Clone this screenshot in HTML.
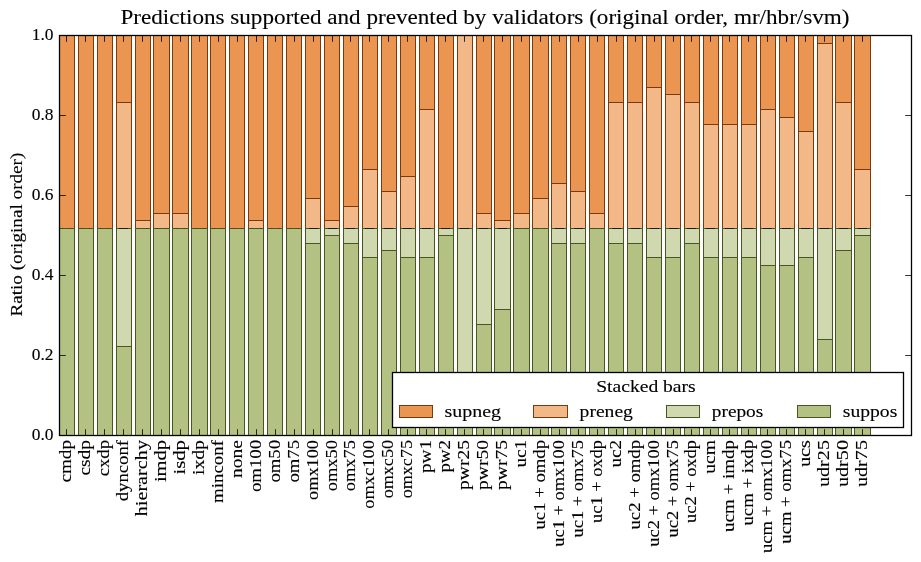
<!DOCTYPE html>
<html><head><meta charset="utf-8"><style>
html,body{margin:0;padding:0;background:#fff;width:921px;height:562px;overflow:hidden}
svg{display:block;will-change:transform}
text{font-family:"Liberation Serif",serif;font-size:16.67px;fill:#000;stroke:#000;stroke-width:0.12px}
</style></head><body>
<svg width="921" height="562" viewBox="0 0 921 562">
<rect width="921" height="562" fill="#fff"/>
<g shape-rendering="crispEdges">
<rect x="59" y="228" width="16" height="208" fill="#b3c283"/>
<rect x="59" y="35" width="16" height="193" fill="#ea9652"/>
<rect x="78" y="228" width="16" height="208" fill="#b3c283"/>
<rect x="78" y="35" width="16" height="193" fill="#ea9652"/>
<rect x="97" y="228" width="16" height="208" fill="#b3c283"/>
<rect x="97" y="35" width="16" height="193" fill="#ea9652"/>
<rect x="116" y="346" width="16" height="90" fill="#b3c283"/>
<rect x="116" y="228" width="16" height="118" fill="#cfd8ae"/>
<rect x="116" y="102" width="16" height="126" fill="#f2b888"/>
<rect x="116" y="35" width="16" height="67" fill="#ea9652"/>
<rect x="135" y="228" width="16" height="208" fill="#b3c283"/>
<rect x="135" y="220" width="16" height="8" fill="#f2b888"/>
<rect x="135" y="35" width="16" height="185" fill="#ea9652"/>
<rect x="153" y="228" width="17" height="208" fill="#b3c283"/>
<rect x="153" y="213" width="17" height="15" fill="#f2b888"/>
<rect x="153" y="35" width="17" height="178" fill="#ea9652"/>
<rect x="172" y="228" width="17" height="208" fill="#b3c283"/>
<rect x="172" y="213" width="17" height="15" fill="#f2b888"/>
<rect x="172" y="35" width="17" height="178" fill="#ea9652"/>
<rect x="191" y="228" width="17" height="208" fill="#b3c283"/>
<rect x="191" y="35" width="17" height="193" fill="#ea9652"/>
<rect x="210" y="228" width="16" height="208" fill="#b3c283"/>
<rect x="210" y="35" width="16" height="193" fill="#ea9652"/>
<rect x="229" y="228" width="16" height="208" fill="#b3c283"/>
<rect x="229" y="35" width="16" height="193" fill="#ea9652"/>
<rect x="248" y="228" width="16" height="208" fill="#b3c283"/>
<rect x="248" y="220" width="16" height="8" fill="#f2b888"/>
<rect x="248" y="35" width="16" height="185" fill="#ea9652"/>
<rect x="267" y="228" width="16" height="208" fill="#b3c283"/>
<rect x="267" y="35" width="16" height="193" fill="#ea9652"/>
<rect x="286" y="228" width="16" height="208" fill="#b3c283"/>
<rect x="286" y="35" width="16" height="193" fill="#ea9652"/>
<rect x="305" y="243" width="16" height="193" fill="#b3c283"/>
<rect x="305" y="228" width="16" height="15" fill="#cfd8ae"/>
<rect x="305" y="198" width="16" height="30" fill="#f2b888"/>
<rect x="305" y="35" width="16" height="163" fill="#ea9652"/>
<rect x="324" y="235" width="16" height="201" fill="#b3c283"/>
<rect x="324" y="228" width="16" height="7" fill="#cfd8ae"/>
<rect x="324" y="220" width="16" height="8" fill="#f2b888"/>
<rect x="324" y="35" width="16" height="185" fill="#ea9652"/>
<rect x="343" y="243" width="16" height="193" fill="#b3c283"/>
<rect x="343" y="228" width="16" height="15" fill="#cfd8ae"/>
<rect x="343" y="206" width="16" height="22" fill="#f2b888"/>
<rect x="343" y="35" width="16" height="171" fill="#ea9652"/>
<rect x="362" y="257" width="16" height="179" fill="#b3c283"/>
<rect x="362" y="228" width="16" height="29" fill="#cfd8ae"/>
<rect x="362" y="169" width="16" height="59" fill="#f2b888"/>
<rect x="362" y="35" width="16" height="134" fill="#ea9652"/>
<rect x="381" y="250" width="16" height="186" fill="#b3c283"/>
<rect x="381" y="228" width="16" height="22" fill="#cfd8ae"/>
<rect x="381" y="191" width="16" height="37" fill="#f2b888"/>
<rect x="381" y="35" width="16" height="156" fill="#ea9652"/>
<rect x="400" y="257" width="16" height="179" fill="#b3c283"/>
<rect x="400" y="228" width="16" height="29" fill="#cfd8ae"/>
<rect x="400" y="176" width="16" height="52" fill="#f2b888"/>
<rect x="400" y="35" width="16" height="141" fill="#ea9652"/>
<rect x="419" y="257" width="16" height="179" fill="#b3c283"/>
<rect x="419" y="228" width="16" height="29" fill="#cfd8ae"/>
<rect x="419" y="109" width="16" height="119" fill="#f2b888"/>
<rect x="419" y="35" width="16" height="74" fill="#ea9652"/>
<rect x="438" y="235" width="16" height="201" fill="#b3c283"/>
<rect x="438" y="228" width="16" height="7" fill="#cfd8ae"/>
<rect x="438" y="35" width="16" height="193" fill="#ea9652"/>
<rect x="457" y="420" width="16" height="16" fill="#b3c283"/>
<rect x="457" y="228" width="16" height="192" fill="#cfd8ae"/>
<rect x="457" y="35" width="16" height="193" fill="#f2b888"/>
<rect x="476" y="324" width="16" height="112" fill="#b3c283"/>
<rect x="476" y="228" width="16" height="96" fill="#cfd8ae"/>
<rect x="476" y="213" width="16" height="15" fill="#f2b888"/>
<rect x="476" y="35" width="16" height="178" fill="#ea9652"/>
<rect x="494" y="309" width="17" height="127" fill="#b3c283"/>
<rect x="494" y="228" width="17" height="81" fill="#cfd8ae"/>
<rect x="494" y="220" width="17" height="8" fill="#f2b888"/>
<rect x="494" y="35" width="17" height="185" fill="#ea9652"/>
<rect x="513" y="228" width="17" height="208" fill="#b3c283"/>
<rect x="513" y="213" width="17" height="15" fill="#f2b888"/>
<rect x="513" y="35" width="17" height="178" fill="#ea9652"/>
<rect x="532" y="228" width="17" height="208" fill="#b3c283"/>
<rect x="532" y="198" width="17" height="30" fill="#f2b888"/>
<rect x="532" y="35" width="17" height="163" fill="#ea9652"/>
<rect x="551" y="243" width="16" height="193" fill="#b3c283"/>
<rect x="551" y="228" width="16" height="15" fill="#cfd8ae"/>
<rect x="551" y="183" width="16" height="45" fill="#f2b888"/>
<rect x="551" y="35" width="16" height="148" fill="#ea9652"/>
<rect x="570" y="243" width="16" height="193" fill="#b3c283"/>
<rect x="570" y="228" width="16" height="15" fill="#cfd8ae"/>
<rect x="570" y="191" width="16" height="37" fill="#f2b888"/>
<rect x="570" y="35" width="16" height="156" fill="#ea9652"/>
<rect x="589" y="228" width="16" height="208" fill="#b3c283"/>
<rect x="589" y="213" width="16" height="15" fill="#f2b888"/>
<rect x="589" y="35" width="16" height="178" fill="#ea9652"/>
<rect x="608" y="243" width="16" height="193" fill="#b3c283"/>
<rect x="608" y="228" width="16" height="15" fill="#cfd8ae"/>
<rect x="608" y="102" width="16" height="126" fill="#f2b888"/>
<rect x="608" y="35" width="16" height="67" fill="#ea9652"/>
<rect x="627" y="243" width="16" height="193" fill="#b3c283"/>
<rect x="627" y="228" width="16" height="15" fill="#cfd8ae"/>
<rect x="627" y="102" width="16" height="126" fill="#f2b888"/>
<rect x="627" y="35" width="16" height="67" fill="#ea9652"/>
<rect x="646" y="257" width="16" height="179" fill="#b3c283"/>
<rect x="646" y="228" width="16" height="29" fill="#cfd8ae"/>
<rect x="646" y="87" width="16" height="141" fill="#f2b888"/>
<rect x="646" y="35" width="16" height="52" fill="#ea9652"/>
<rect x="665" y="257" width="16" height="179" fill="#b3c283"/>
<rect x="665" y="228" width="16" height="29" fill="#cfd8ae"/>
<rect x="665" y="94" width="16" height="134" fill="#f2b888"/>
<rect x="665" y="35" width="16" height="59" fill="#ea9652"/>
<rect x="684" y="243" width="16" height="193" fill="#b3c283"/>
<rect x="684" y="228" width="16" height="15" fill="#cfd8ae"/>
<rect x="684" y="102" width="16" height="126" fill="#f2b888"/>
<rect x="684" y="35" width="16" height="67" fill="#ea9652"/>
<rect x="703" y="257" width="16" height="179" fill="#b3c283"/>
<rect x="703" y="228" width="16" height="29" fill="#cfd8ae"/>
<rect x="703" y="124" width="16" height="104" fill="#f2b888"/>
<rect x="703" y="35" width="16" height="89" fill="#ea9652"/>
<rect x="722" y="257" width="16" height="179" fill="#b3c283"/>
<rect x="722" y="228" width="16" height="29" fill="#cfd8ae"/>
<rect x="722" y="124" width="16" height="104" fill="#f2b888"/>
<rect x="722" y="35" width="16" height="89" fill="#ea9652"/>
<rect x="741" y="257" width="16" height="179" fill="#b3c283"/>
<rect x="741" y="228" width="16" height="29" fill="#cfd8ae"/>
<rect x="741" y="124" width="16" height="104" fill="#f2b888"/>
<rect x="741" y="35" width="16" height="89" fill="#ea9652"/>
<rect x="760" y="265" width="16" height="171" fill="#b3c283"/>
<rect x="760" y="228" width="16" height="37" fill="#cfd8ae"/>
<rect x="760" y="109" width="16" height="119" fill="#f2b888"/>
<rect x="760" y="35" width="16" height="74" fill="#ea9652"/>
<rect x="779" y="265" width="16" height="171" fill="#b3c283"/>
<rect x="779" y="228" width="16" height="37" fill="#cfd8ae"/>
<rect x="779" y="117" width="16" height="111" fill="#f2b888"/>
<rect x="779" y="35" width="16" height="82" fill="#ea9652"/>
<rect x="798" y="257" width="16" height="179" fill="#b3c283"/>
<rect x="798" y="228" width="16" height="29" fill="#cfd8ae"/>
<rect x="798" y="131" width="16" height="97" fill="#f2b888"/>
<rect x="798" y="35" width="16" height="96" fill="#ea9652"/>
<rect x="817" y="339" width="16" height="97" fill="#b3c283"/>
<rect x="817" y="228" width="16" height="111" fill="#cfd8ae"/>
<rect x="817" y="43" width="16" height="185" fill="#f2b888"/>
<rect x="817" y="35" width="16" height="8" fill="#ea9652"/>
<rect x="835" y="250" width="17" height="186" fill="#b3c283"/>
<rect x="835" y="228" width="17" height="22" fill="#cfd8ae"/>
<rect x="835" y="102" width="17" height="126" fill="#f2b888"/>
<rect x="835" y="35" width="17" height="67" fill="#ea9652"/>
<rect x="854" y="235" width="17" height="201" fill="#b3c283"/>
<rect x="854" y="228" width="17" height="7" fill="#cfd8ae"/>
<rect x="854" y="169" width="17" height="59" fill="#f2b888"/>
<rect x="854" y="35" width="17" height="134" fill="#ea9652"/>
</g>
<g shape-rendering="crispEdges">
<path d="M59,228h16v1h-16zM59,229h1v207h-1zM74,229h1v207h-1z" fill="#485624"/>
<path d="M59,35h16v1h-16zM59,36h1v192h-1zM74,36h1v192h-1z" fill="#7a3a0c"/>
<path d="M62,228h1v1h-1zM70,228h1v1h-1z" fill="#000" fill-opacity="0.25"/>
<path d="M78,228h16v1h-16zM78,229h1v207h-1zM93,229h1v207h-1z" fill="#485624"/>
<path d="M78,35h16v1h-16zM78,36h1v192h-1zM93,36h1v192h-1z" fill="#7a3a0c"/>
<path d="M81,228h1v1h-1zM89,228h1v1h-1z" fill="#000" fill-opacity="0.25"/>
<path d="M97,228h16v1h-16zM97,229h1v207h-1zM112,229h1v207h-1z" fill="#485624"/>
<path d="M97,35h16v1h-16zM97,36h1v192h-1zM112,36h1v192h-1z" fill="#7a3a0c"/>
<path d="M100,228h1v1h-1zM108,228h1v1h-1z" fill="#000" fill-opacity="0.25"/>
<path d="M116,346h16v1h-16zM116,347h1v89h-1zM131,347h1v89h-1z" fill="#485624"/>
<path d="M116,228h16v1h-16zM116,229h1v117h-1zM131,229h1v117h-1z" fill="#485624"/>
<path d="M116,102h16v1h-16zM116,103h1v125h-1zM131,103h1v125h-1z" fill="#7a3a0c"/>
<path d="M116,35h16v1h-16zM116,36h1v66h-1zM131,36h1v66h-1z" fill="#7a3a0c"/>
<rect x="119" y="228" width="9" height="1" fill="#141a0c" fill-opacity="0.9"/>
<path d="M135,228h16v1h-16zM135,229h1v207h-1zM150,229h1v207h-1z" fill="#485624"/>
<path d="M135,220h16v1h-16zM135,221h1v7h-1zM150,221h1v7h-1z" fill="#7a3a0c"/>
<path d="M135,35h16v1h-16zM135,36h1v184h-1zM150,36h1v184h-1z" fill="#7a3a0c"/>
<path d="M138,228h1v1h-1zM146,228h1v1h-1z" fill="#000" fill-opacity="0.25"/>
<path d="M153,228h17v1h-17zM153,229h1v207h-1zM169,229h1v207h-1z" fill="#485624"/>
<path d="M153,213h17v1h-17zM153,214h1v14h-1zM169,214h1v14h-1z" fill="#7a3a0c"/>
<path d="M153,35h17v1h-17zM153,36h1v177h-1zM169,36h1v177h-1z" fill="#7a3a0c"/>
<path d="M157,228h1v1h-1zM165,228h1v1h-1z" fill="#000" fill-opacity="0.25"/>
<path d="M172,228h17v1h-17zM172,229h1v207h-1zM188,229h1v207h-1z" fill="#485624"/>
<path d="M172,213h17v1h-17zM172,214h1v14h-1zM188,214h1v14h-1z" fill="#7a3a0c"/>
<path d="M172,35h17v1h-17zM172,36h1v177h-1zM188,36h1v177h-1z" fill="#7a3a0c"/>
<path d="M176,228h1v1h-1zM184,228h1v1h-1z" fill="#000" fill-opacity="0.25"/>
<path d="M191,228h17v1h-17zM191,229h1v207h-1zM207,229h1v207h-1z" fill="#485624"/>
<path d="M191,35h17v1h-17zM191,36h1v192h-1zM207,36h1v192h-1z" fill="#7a3a0c"/>
<path d="M195,228h1v1h-1zM203,228h1v1h-1z" fill="#000" fill-opacity="0.25"/>
<path d="M210,228h16v1h-16zM210,229h1v207h-1zM225,229h1v207h-1z" fill="#485624"/>
<path d="M210,35h16v1h-16zM210,36h1v192h-1zM225,36h1v192h-1z" fill="#7a3a0c"/>
<path d="M214,228h1v1h-1zM222,228h1v1h-1z" fill="#000" fill-opacity="0.25"/>
<path d="M229,228h16v1h-16zM229,229h1v207h-1zM244,229h1v207h-1z" fill="#485624"/>
<path d="M229,35h16v1h-16zM229,36h1v192h-1zM244,36h1v192h-1z" fill="#7a3a0c"/>
<path d="M233,228h1v1h-1zM241,228h1v1h-1z" fill="#000" fill-opacity="0.25"/>
<path d="M248,228h16v1h-16zM248,229h1v207h-1zM263,229h1v207h-1z" fill="#485624"/>
<path d="M248,220h16v1h-16zM248,221h1v7h-1zM263,221h1v7h-1z" fill="#7a3a0c"/>
<path d="M248,35h16v1h-16zM248,36h1v184h-1zM263,36h1v184h-1z" fill="#7a3a0c"/>
<path d="M252,228h1v1h-1zM260,228h1v1h-1z" fill="#000" fill-opacity="0.25"/>
<path d="M267,228h16v1h-16zM267,229h1v207h-1zM282,229h1v207h-1z" fill="#485624"/>
<path d="M267,35h16v1h-16zM267,36h1v192h-1zM282,36h1v192h-1z" fill="#7a3a0c"/>
<path d="M271,228h1v1h-1zM279,228h1v1h-1z" fill="#000" fill-opacity="0.25"/>
<path d="M286,228h16v1h-16zM286,229h1v207h-1zM301,229h1v207h-1z" fill="#485624"/>
<path d="M286,35h16v1h-16zM286,36h1v192h-1zM301,36h1v192h-1z" fill="#7a3a0c"/>
<path d="M290,228h1v1h-1zM298,228h1v1h-1z" fill="#000" fill-opacity="0.25"/>
<path d="M305,243h16v1h-16zM305,244h1v192h-1zM320,244h1v192h-1z" fill="#485624"/>
<path d="M305,228h16v1h-16zM305,229h1v14h-1zM320,229h1v14h-1z" fill="#485624"/>
<path d="M305,198h16v1h-16zM305,199h1v29h-1zM320,199h1v29h-1z" fill="#7a3a0c"/>
<path d="M305,35h16v1h-16zM305,36h1v162h-1zM320,36h1v162h-1z" fill="#7a3a0c"/>
<rect x="309" y="228" width="9" height="1" fill="#141a0c" fill-opacity="0.9"/>
<path d="M324,235h16v1h-16zM324,236h1v200h-1zM339,236h1v200h-1z" fill="#485624"/>
<path d="M324,228h16v1h-16zM324,229h1v6h-1zM339,229h1v6h-1z" fill="#485624"/>
<path d="M324,220h16v1h-16zM324,221h1v7h-1zM339,221h1v7h-1z" fill="#7a3a0c"/>
<path d="M324,35h16v1h-16zM324,36h1v184h-1zM339,36h1v184h-1z" fill="#7a3a0c"/>
<rect x="328" y="228" width="9" height="1" fill="#141a0c" fill-opacity="0.9"/>
<path d="M343,243h16v1h-16zM343,244h1v192h-1zM358,244h1v192h-1z" fill="#485624"/>
<path d="M343,228h16v1h-16zM343,229h1v14h-1zM358,229h1v14h-1z" fill="#485624"/>
<path d="M343,206h16v1h-16zM343,207h1v21h-1zM358,207h1v21h-1z" fill="#7a3a0c"/>
<path d="M343,35h16v1h-16zM343,36h1v170h-1zM358,36h1v170h-1z" fill="#7a3a0c"/>
<rect x="346" y="228" width="9" height="1" fill="#141a0c" fill-opacity="0.9"/>
<path d="M362,257h16v1h-16zM362,258h1v178h-1zM377,258h1v178h-1z" fill="#485624"/>
<path d="M362,228h16v1h-16zM362,229h1v28h-1zM377,229h1v28h-1z" fill="#485624"/>
<path d="M362,169h16v1h-16zM362,170h1v58h-1zM377,170h1v58h-1z" fill="#7a3a0c"/>
<path d="M362,35h16v1h-16zM362,36h1v133h-1zM377,36h1v133h-1z" fill="#7a3a0c"/>
<rect x="365" y="228" width="9" height="1" fill="#141a0c" fill-opacity="0.9"/>
<path d="M381,250h16v1h-16zM381,251h1v185h-1zM396,251h1v185h-1z" fill="#485624"/>
<path d="M381,228h16v1h-16zM381,229h1v21h-1zM396,229h1v21h-1z" fill="#485624"/>
<path d="M381,191h16v1h-16zM381,192h1v36h-1zM396,192h1v36h-1z" fill="#7a3a0c"/>
<path d="M381,35h16v1h-16zM381,36h1v155h-1zM396,36h1v155h-1z" fill="#7a3a0c"/>
<rect x="384" y="228" width="9" height="1" fill="#141a0c" fill-opacity="0.9"/>
<path d="M400,257h16v1h-16zM400,258h1v178h-1zM415,258h1v178h-1z" fill="#485624"/>
<path d="M400,228h16v1h-16zM400,229h1v28h-1zM415,229h1v28h-1z" fill="#485624"/>
<path d="M400,176h16v1h-16zM400,177h1v51h-1zM415,177h1v51h-1z" fill="#7a3a0c"/>
<path d="M400,35h16v1h-16zM400,36h1v140h-1zM415,36h1v140h-1z" fill="#7a3a0c"/>
<rect x="403" y="228" width="9" height="1" fill="#141a0c" fill-opacity="0.9"/>
<path d="M419,257h16v1h-16zM419,258h1v178h-1zM434,258h1v178h-1z" fill="#485624"/>
<path d="M419,228h16v1h-16zM419,229h1v28h-1zM434,229h1v28h-1z" fill="#485624"/>
<path d="M419,109h16v1h-16zM419,110h1v118h-1zM434,110h1v118h-1z" fill="#7a3a0c"/>
<path d="M419,35h16v1h-16zM419,36h1v73h-1zM434,36h1v73h-1z" fill="#7a3a0c"/>
<rect x="422" y="228" width="9" height="1" fill="#141a0c" fill-opacity="0.9"/>
<path d="M438,235h16v1h-16zM438,236h1v200h-1zM453,236h1v200h-1z" fill="#485624"/>
<path d="M438,228h16v1h-16zM438,229h1v6h-1zM453,229h1v6h-1z" fill="#485624"/>
<path d="M438,35h16v1h-16zM438,36h1v192h-1zM453,36h1v192h-1z" fill="#7a3a0c"/>
<rect x="441" y="228" width="9" height="1" fill="#141a0c" fill-opacity="0.9"/>
<path d="M457,420h16v1h-16zM457,421h1v15h-1zM472,421h1v15h-1z" fill="#485624"/>
<path d="M457,228h16v1h-16zM457,229h1v191h-1zM472,229h1v191h-1z" fill="#485624"/>
<path d="M457,35h16v1h-16zM457,36h1v192h-1zM472,36h1v192h-1z" fill="#7a3a0c"/>
<rect x="460" y="228" width="9" height="1" fill="#141a0c" fill-opacity="0.9"/>
<path d="M476,324h16v1h-16zM476,325h1v111h-1zM491,325h1v111h-1z" fill="#485624"/>
<path d="M476,228h16v1h-16zM476,229h1v95h-1zM491,229h1v95h-1z" fill="#485624"/>
<path d="M476,213h16v1h-16zM476,214h1v14h-1zM491,214h1v14h-1z" fill="#7a3a0c"/>
<path d="M476,35h16v1h-16zM476,36h1v177h-1zM491,36h1v177h-1z" fill="#7a3a0c"/>
<rect x="479" y="228" width="9" height="1" fill="#141a0c" fill-opacity="0.9"/>
<path d="M494,309h17v1h-17zM494,310h1v126h-1zM510,310h1v126h-1z" fill="#485624"/>
<path d="M494,228h17v1h-17zM494,229h1v80h-1zM510,229h1v80h-1z" fill="#485624"/>
<path d="M494,220h17v1h-17zM494,221h1v7h-1zM510,221h1v7h-1z" fill="#7a3a0c"/>
<path d="M494,35h17v1h-17zM494,36h1v184h-1zM510,36h1v184h-1z" fill="#7a3a0c"/>
<rect x="498" y="228" width="9" height="1" fill="#141a0c" fill-opacity="0.9"/>
<path d="M513,228h17v1h-17zM513,229h1v207h-1zM529,229h1v207h-1z" fill="#485624"/>
<path d="M513,213h17v1h-17zM513,214h1v14h-1zM529,214h1v14h-1z" fill="#7a3a0c"/>
<path d="M513,35h17v1h-17zM513,36h1v177h-1zM529,36h1v177h-1z" fill="#7a3a0c"/>
<path d="M517,228h1v1h-1zM525,228h1v1h-1z" fill="#000" fill-opacity="0.25"/>
<path d="M532,228h17v1h-17zM532,229h1v207h-1zM548,229h1v207h-1z" fill="#485624"/>
<path d="M532,198h17v1h-17zM532,199h1v29h-1zM548,199h1v29h-1z" fill="#7a3a0c"/>
<path d="M532,35h17v1h-17zM532,36h1v162h-1zM548,36h1v162h-1z" fill="#7a3a0c"/>
<path d="M536,228h1v1h-1zM544,228h1v1h-1z" fill="#000" fill-opacity="0.25"/>
<path d="M551,243h16v1h-16zM551,244h1v192h-1zM566,244h1v192h-1z" fill="#485624"/>
<path d="M551,228h16v1h-16zM551,229h1v14h-1zM566,229h1v14h-1z" fill="#485624"/>
<path d="M551,183h16v1h-16zM551,184h1v44h-1zM566,184h1v44h-1z" fill="#7a3a0c"/>
<path d="M551,35h16v1h-16zM551,36h1v147h-1zM566,36h1v147h-1z" fill="#7a3a0c"/>
<rect x="555" y="228" width="9" height="1" fill="#141a0c" fill-opacity="0.9"/>
<path d="M570,243h16v1h-16zM570,244h1v192h-1zM585,244h1v192h-1z" fill="#485624"/>
<path d="M570,228h16v1h-16zM570,229h1v14h-1zM585,229h1v14h-1z" fill="#485624"/>
<path d="M570,191h16v1h-16zM570,192h1v36h-1zM585,192h1v36h-1z" fill="#7a3a0c"/>
<path d="M570,35h16v1h-16zM570,36h1v155h-1zM585,36h1v155h-1z" fill="#7a3a0c"/>
<rect x="574" y="228" width="9" height="1" fill="#141a0c" fill-opacity="0.9"/>
<path d="M589,228h16v1h-16zM589,229h1v207h-1zM604,229h1v207h-1z" fill="#485624"/>
<path d="M589,213h16v1h-16zM589,214h1v14h-1zM604,214h1v14h-1z" fill="#7a3a0c"/>
<path d="M589,35h16v1h-16zM589,36h1v177h-1zM604,36h1v177h-1z" fill="#7a3a0c"/>
<path d="M593,228h1v1h-1zM601,228h1v1h-1z" fill="#000" fill-opacity="0.25"/>
<path d="M608,243h16v1h-16zM608,244h1v192h-1zM623,244h1v192h-1z" fill="#485624"/>
<path d="M608,228h16v1h-16zM608,229h1v14h-1zM623,229h1v14h-1z" fill="#485624"/>
<path d="M608,102h16v1h-16zM608,103h1v125h-1zM623,103h1v125h-1z" fill="#7a3a0c"/>
<path d="M608,35h16v1h-16zM608,36h1v66h-1zM623,36h1v66h-1z" fill="#7a3a0c"/>
<rect x="612" y="228" width="9" height="1" fill="#141a0c" fill-opacity="0.9"/>
<path d="M627,243h16v1h-16zM627,244h1v192h-1zM642,244h1v192h-1z" fill="#485624"/>
<path d="M627,228h16v1h-16zM627,229h1v14h-1zM642,229h1v14h-1z" fill="#485624"/>
<path d="M627,102h16v1h-16zM627,103h1v125h-1zM642,103h1v125h-1z" fill="#7a3a0c"/>
<path d="M627,35h16v1h-16zM627,36h1v66h-1zM642,36h1v66h-1z" fill="#7a3a0c"/>
<rect x="631" y="228" width="9" height="1" fill="#141a0c" fill-opacity="0.9"/>
<path d="M646,257h16v1h-16zM646,258h1v178h-1zM661,258h1v178h-1z" fill="#485624"/>
<path d="M646,228h16v1h-16zM646,229h1v28h-1zM661,229h1v28h-1z" fill="#485624"/>
<path d="M646,87h16v1h-16zM646,88h1v140h-1zM661,88h1v140h-1z" fill="#7a3a0c"/>
<path d="M646,35h16v1h-16zM646,36h1v51h-1zM661,36h1v51h-1z" fill="#7a3a0c"/>
<rect x="650" y="228" width="9" height="1" fill="#141a0c" fill-opacity="0.9"/>
<path d="M665,257h16v1h-16zM665,258h1v178h-1zM680,258h1v178h-1z" fill="#485624"/>
<path d="M665,228h16v1h-16zM665,229h1v28h-1zM680,229h1v28h-1z" fill="#485624"/>
<path d="M665,94h16v1h-16zM665,95h1v133h-1zM680,95h1v133h-1z" fill="#7a3a0c"/>
<path d="M665,35h16v1h-16zM665,36h1v58h-1zM680,36h1v58h-1z" fill="#7a3a0c"/>
<rect x="669" y="228" width="9" height="1" fill="#141a0c" fill-opacity="0.9"/>
<path d="M684,243h16v1h-16zM684,244h1v192h-1zM699,244h1v192h-1z" fill="#485624"/>
<path d="M684,228h16v1h-16zM684,229h1v14h-1zM699,229h1v14h-1z" fill="#485624"/>
<path d="M684,102h16v1h-16zM684,103h1v125h-1zM699,103h1v125h-1z" fill="#7a3a0c"/>
<path d="M684,35h16v1h-16zM684,36h1v66h-1zM699,36h1v66h-1z" fill="#7a3a0c"/>
<rect x="687" y="228" width="9" height="1" fill="#141a0c" fill-opacity="0.9"/>
<path d="M703,257h16v1h-16zM703,258h1v178h-1zM718,258h1v178h-1z" fill="#485624"/>
<path d="M703,228h16v1h-16zM703,229h1v28h-1zM718,229h1v28h-1z" fill="#485624"/>
<path d="M703,124h16v1h-16zM703,125h1v103h-1zM718,125h1v103h-1z" fill="#7a3a0c"/>
<path d="M703,35h16v1h-16zM703,36h1v88h-1zM718,36h1v88h-1z" fill="#7a3a0c"/>
<rect x="706" y="228" width="9" height="1" fill="#141a0c" fill-opacity="0.9"/>
<path d="M722,257h16v1h-16zM722,258h1v178h-1zM737,258h1v178h-1z" fill="#485624"/>
<path d="M722,228h16v1h-16zM722,229h1v28h-1zM737,229h1v28h-1z" fill="#485624"/>
<path d="M722,124h16v1h-16zM722,125h1v103h-1zM737,125h1v103h-1z" fill="#7a3a0c"/>
<path d="M722,35h16v1h-16zM722,36h1v88h-1zM737,36h1v88h-1z" fill="#7a3a0c"/>
<rect x="725" y="228" width="9" height="1" fill="#141a0c" fill-opacity="0.9"/>
<path d="M741,257h16v1h-16zM741,258h1v178h-1zM756,258h1v178h-1z" fill="#485624"/>
<path d="M741,228h16v1h-16zM741,229h1v28h-1zM756,229h1v28h-1z" fill="#485624"/>
<path d="M741,124h16v1h-16zM741,125h1v103h-1zM756,125h1v103h-1z" fill="#7a3a0c"/>
<path d="M741,35h16v1h-16zM741,36h1v88h-1zM756,36h1v88h-1z" fill="#7a3a0c"/>
<rect x="744" y="228" width="9" height="1" fill="#141a0c" fill-opacity="0.9"/>
<path d="M760,265h16v1h-16zM760,266h1v170h-1zM775,266h1v170h-1z" fill="#485624"/>
<path d="M760,228h16v1h-16zM760,229h1v36h-1zM775,229h1v36h-1z" fill="#485624"/>
<path d="M760,109h16v1h-16zM760,110h1v118h-1zM775,110h1v118h-1z" fill="#7a3a0c"/>
<path d="M760,35h16v1h-16zM760,36h1v73h-1zM775,36h1v73h-1z" fill="#7a3a0c"/>
<rect x="763" y="228" width="9" height="1" fill="#141a0c" fill-opacity="0.9"/>
<path d="M779,265h16v1h-16zM779,266h1v170h-1zM794,266h1v170h-1z" fill="#485624"/>
<path d="M779,228h16v1h-16zM779,229h1v36h-1zM794,229h1v36h-1z" fill="#485624"/>
<path d="M779,117h16v1h-16zM779,118h1v110h-1zM794,118h1v110h-1z" fill="#7a3a0c"/>
<path d="M779,35h16v1h-16zM779,36h1v81h-1zM794,36h1v81h-1z" fill="#7a3a0c"/>
<rect x="782" y="228" width="9" height="1" fill="#141a0c" fill-opacity="0.9"/>
<path d="M798,257h16v1h-16zM798,258h1v178h-1zM813,258h1v178h-1z" fill="#485624"/>
<path d="M798,228h16v1h-16zM798,229h1v28h-1zM813,229h1v28h-1z" fill="#485624"/>
<path d="M798,131h16v1h-16zM798,132h1v96h-1zM813,132h1v96h-1z" fill="#7a3a0c"/>
<path d="M798,35h16v1h-16zM798,36h1v95h-1zM813,36h1v95h-1z" fill="#7a3a0c"/>
<rect x="801" y="228" width="9" height="1" fill="#141a0c" fill-opacity="0.9"/>
<path d="M817,339h16v1h-16zM817,340h1v96h-1zM832,340h1v96h-1z" fill="#485624"/>
<path d="M817,228h16v1h-16zM817,229h1v110h-1zM832,229h1v110h-1z" fill="#485624"/>
<path d="M817,43h16v1h-16zM817,44h1v184h-1zM832,44h1v184h-1z" fill="#7a3a0c"/>
<path d="M817,35h16v1h-16zM817,36h1v7h-1zM832,36h1v7h-1z" fill="#7a3a0c"/>
<rect x="820" y="228" width="9" height="1" fill="#141a0c" fill-opacity="0.9"/>
<path d="M835,250h17v1h-17zM835,251h1v185h-1zM851,251h1v185h-1z" fill="#485624"/>
<path d="M835,228h17v1h-17zM835,229h1v21h-1zM851,229h1v21h-1z" fill="#485624"/>
<path d="M835,102h17v1h-17zM835,103h1v125h-1zM851,103h1v125h-1z" fill="#7a3a0c"/>
<path d="M835,35h17v1h-17zM835,36h1v66h-1zM851,36h1v66h-1z" fill="#7a3a0c"/>
<rect x="839" y="228" width="9" height="1" fill="#141a0c" fill-opacity="0.9"/>
<path d="M854,235h17v1h-17zM854,236h1v200h-1zM870,236h1v200h-1z" fill="#485624"/>
<path d="M854,228h17v1h-17zM854,229h1v6h-1zM870,229h1v6h-1z" fill="#485624"/>
<path d="M854,169h17v1h-17zM854,170h1v58h-1zM870,170h1v58h-1z" fill="#7a3a0c"/>
<path d="M854,35h17v1h-17zM854,36h1v133h-1zM870,36h1v133h-1z" fill="#7a3a0c"/>
<rect x="858" y="228" width="9" height="1" fill="#141a0c" fill-opacity="0.9"/>
</g>
<path d="M66.5,435V429.2M66.5,36V41.8M85.5,435V429.2M85.5,36V41.8M104.5,435V429.2M104.5,36V41.8M123.5,435V429.2M123.5,36V41.8M142.5,435V429.2M142.5,36V41.8M161.5,435V429.2M161.5,36V41.8M180.5,435V429.2M180.5,36V41.8M199.5,435V429.2M199.5,36V41.8M218.5,435V429.2M218.5,36V41.8M237.5,435V429.2M237.5,36V41.8M256.5,435V429.2M256.5,36V41.8M275.5,435V429.2M275.5,36V41.8M294.5,435V429.2M294.5,36V41.8M313.5,435V429.2M313.5,36V41.8M332.5,435V429.2M332.5,36V41.8M350.5,435V429.2M350.5,36V41.8M369.5,435V429.2M369.5,36V41.8M388.5,435V429.2M388.5,36V41.8M407.5,435V429.2M407.5,36V41.8M426.5,435V429.2M426.5,36V41.8M445.5,435V429.2M445.5,36V41.8M464.5,435V429.2M464.5,36V41.8M483.5,435V429.2M483.5,36V41.8M502.5,435V429.2M502.5,36V41.8M521.5,435V429.2M521.5,36V41.8M540.5,435V429.2M540.5,36V41.8M559.5,435V429.2M559.5,36V41.8M578.5,435V429.2M578.5,36V41.8M597.5,435V429.2M597.5,36V41.8M616.5,435V429.2M616.5,36V41.8M635.5,435V429.2M635.5,36V41.8M654.5,435V429.2M654.5,36V41.8M673.5,435V429.2M673.5,36V41.8M691.5,435V429.2M691.5,36V41.8M710.5,435V429.2M710.5,36V41.8M729.5,435V429.2M729.5,36V41.8M748.5,435V429.2M748.5,36V41.8M767.5,435V429.2M767.5,36V41.8M786.5,435V429.2M786.5,36V41.8M805.5,435V429.2M805.5,36V41.8M824.5,435V429.2M824.5,36V41.8M843.5,435V429.2M843.5,36V41.8M862.5,435V429.2M862.5,36V41.8M60,435.5H65.8M911,435.5H905.2M60,355.5H65.8M911,355.5H905.2M60,275.5H65.8M911,275.5H905.2M60,195.5H65.8M911,195.5H905.2M60,115.5H65.8M911,115.5H905.2M60,35.5H65.8M911,35.5H905.2" stroke="#000" stroke-opacity="0.8" stroke-width="1" fill="none"/>
<rect x="59.5" y="35.5" width="852" height="400" stroke="#000" stroke-width="1.3" fill="none"/>
<text x="53.6" y="440.20" text-anchor="end" style="font-size:17.55px" textLength="21.8" lengthAdjust="spacingAndGlyphs">0.0</text>
<text x="53.6" y="360.20" text-anchor="end" style="font-size:17.55px" textLength="21.8" lengthAdjust="spacingAndGlyphs">0.2</text>
<text x="53.6" y="280.20" text-anchor="end" style="font-size:17.55px" textLength="21.8" lengthAdjust="spacingAndGlyphs">0.4</text>
<text x="53.6" y="200.20" text-anchor="end" style="font-size:17.55px" textLength="21.8" lengthAdjust="spacingAndGlyphs">0.6</text>
<text x="53.6" y="120.20" text-anchor="end" style="font-size:17.55px" textLength="21.8" lengthAdjust="spacingAndGlyphs">0.8</text>
<text x="53.6" y="40.20" text-anchor="end" style="font-size:17.55px" textLength="21.8" lengthAdjust="spacingAndGlyphs">1.0</text>
<text transform="translate(21.7,234.6) rotate(-90)" text-anchor="middle" style="font-size:17.4px" textLength="164" lengthAdjust="spacingAndGlyphs">Ratio (original order)</text>
<text x="120.5" y="23.7" style="font-size:21.4px" textLength="729" lengthAdjust="spacingAndGlyphs">Predictions supported and prevented by validators (original order, mr/hbr/svm)</text>
<text transform="translate(70.70,440.0) rotate(-90)" text-anchor="end" textLength="42.6" lengthAdjust="spacingAndGlyphs">cmdp</text>
<text transform="translate(89.70,440.0) rotate(-90)" text-anchor="end" textLength="35.6" lengthAdjust="spacingAndGlyphs">csdp</text>
<text transform="translate(108.70,440.0) rotate(-90)" text-anchor="end" textLength="36.3" lengthAdjust="spacingAndGlyphs">cxdp</text>
<text transform="translate(127.70,440.0) rotate(-90)" text-anchor="end" textLength="61.3" lengthAdjust="spacingAndGlyphs">dynconf</text>
<text transform="translate(146.70,440.0) rotate(-90)" text-anchor="end" textLength="76.3" lengthAdjust="spacingAndGlyphs">hierarchy</text>
<text transform="translate(165.70,440.0) rotate(-90)" text-anchor="end" textLength="42.1" lengthAdjust="spacingAndGlyphs">imdp</text>
<text transform="translate(184.70,440.0) rotate(-90)" text-anchor="end" textLength="34.6" lengthAdjust="spacingAndGlyphs">isdp</text>
<text transform="translate(203.70,440.0) rotate(-90)" text-anchor="end" textLength="35.1" lengthAdjust="spacingAndGlyphs">ixdp</text>
<text transform="translate(222.70,440.0) rotate(-90)" text-anchor="end" textLength="63.0" lengthAdjust="spacingAndGlyphs">minconf</text>
<text transform="translate(241.70,440.0) rotate(-90)" text-anchor="end" textLength="38.1" lengthAdjust="spacingAndGlyphs">none</text>
<text transform="translate(260.70,440.0) rotate(-90)" text-anchor="end" textLength="52.0" lengthAdjust="spacingAndGlyphs">om100</text>
<text transform="translate(279.70,440.0) rotate(-90)" text-anchor="end" textLength="42.6" lengthAdjust="spacingAndGlyphs">om50</text>
<text transform="translate(298.70,440.0) rotate(-90)" text-anchor="end" textLength="42.6" lengthAdjust="spacingAndGlyphs">om75</text>
<text transform="translate(317.70,440.0) rotate(-90)" text-anchor="end" textLength="60.0" lengthAdjust="spacingAndGlyphs">omx100</text>
<text transform="translate(336.70,440.0) rotate(-90)" text-anchor="end" textLength="51.3" lengthAdjust="spacingAndGlyphs">omx50</text>
<text transform="translate(354.70,440.0) rotate(-90)" text-anchor="end" textLength="51.3" lengthAdjust="spacingAndGlyphs">omx75</text>
<text transform="translate(373.70,440.0) rotate(-90)" text-anchor="end" textLength="68.8" lengthAdjust="spacingAndGlyphs">omxc100</text>
<text transform="translate(392.70,440.0) rotate(-90)" text-anchor="end" textLength="58.3" lengthAdjust="spacingAndGlyphs">omxc50</text>
<text transform="translate(411.70,440.0) rotate(-90)" text-anchor="end" textLength="58.3" lengthAdjust="spacingAndGlyphs">omxc75</text>
<text transform="translate(430.70,440.0) rotate(-90)" text-anchor="end" textLength="33.1" lengthAdjust="spacingAndGlyphs">pw1</text>
<text transform="translate(449.70,440.0) rotate(-90)" text-anchor="end" textLength="32.6" lengthAdjust="spacingAndGlyphs">pw2</text>
<text transform="translate(468.70,440.0) rotate(-90)" text-anchor="end" textLength="50.0" lengthAdjust="spacingAndGlyphs">pwr25</text>
<text transform="translate(487.70,440.0) rotate(-90)" text-anchor="end" textLength="50.0" lengthAdjust="spacingAndGlyphs">pwr50</text>
<text transform="translate(506.70,440.0) rotate(-90)" text-anchor="end" textLength="50.0" lengthAdjust="spacingAndGlyphs">pwr75</text>
<text transform="translate(525.70,440.0) rotate(-90)" text-anchor="end" textLength="27.6" lengthAdjust="spacingAndGlyphs">uc1</text>
<text transform="translate(544.70,440.0) rotate(-90)" text-anchor="end" textLength="89.5" lengthAdjust="spacingAndGlyphs">uc1 + omdp</text>
<text transform="translate(563.70,440.0) rotate(-90)" text-anchor="end" textLength="106.7" lengthAdjust="spacingAndGlyphs">uc1 + omx100</text>
<text transform="translate(582.70,440.0) rotate(-90)" text-anchor="end" textLength="97.5" lengthAdjust="spacingAndGlyphs">uc1 + omx75</text>
<text transform="translate(601.70,440.0) rotate(-90)" text-anchor="end" textLength="83.0" lengthAdjust="spacingAndGlyphs">uc1 + oxdp</text>
<text transform="translate(620.70,440.0) rotate(-90)" text-anchor="end" textLength="27.6" lengthAdjust="spacingAndGlyphs">uc2</text>
<text transform="translate(639.70,440.0) rotate(-90)" text-anchor="end" textLength="89.5" lengthAdjust="spacingAndGlyphs">uc2 + omdp</text>
<text transform="translate(658.70,440.0) rotate(-90)" text-anchor="end" textLength="106.7" lengthAdjust="spacingAndGlyphs">uc2 + omx100</text>
<text transform="translate(677.70,440.0) rotate(-90)" text-anchor="end" textLength="97.5" lengthAdjust="spacingAndGlyphs">uc2 + omx75</text>
<text transform="translate(695.70,440.0) rotate(-90)" text-anchor="end" textLength="83.0" lengthAdjust="spacingAndGlyphs">uc2 + oxdp</text>
<text transform="translate(714.70,440.0) rotate(-90)" text-anchor="end" textLength="33.8" lengthAdjust="spacingAndGlyphs">ucm</text>
<text transform="translate(733.70,440.0) rotate(-90)" text-anchor="end" textLength="92.0" lengthAdjust="spacingAndGlyphs">ucm + imdp</text>
<text transform="translate(752.70,440.0) rotate(-90)" text-anchor="end" textLength="85.5" lengthAdjust="spacingAndGlyphs">ucm + ixdp</text>
<text transform="translate(771.70,440.0) rotate(-90)" text-anchor="end" textLength="113.0" lengthAdjust="spacingAndGlyphs">ucm + omx100</text>
<text transform="translate(790.70,440.0) rotate(-90)" text-anchor="end" textLength="103.7" lengthAdjust="spacingAndGlyphs">ucm + omx75</text>
<text transform="translate(809.70,440.0) rotate(-90)" text-anchor="end" textLength="27.1" lengthAdjust="spacingAndGlyphs">ucs</text>
<text transform="translate(828.70,440.0) rotate(-90)" text-anchor="end" textLength="47.1" lengthAdjust="spacingAndGlyphs">udr25</text>
<text transform="translate(847.70,440.0) rotate(-90)" text-anchor="end" textLength="47.1" lengthAdjust="spacingAndGlyphs">udr50</text>
<text transform="translate(866.70,440.0) rotate(-90)" text-anchor="end" textLength="47.1" lengthAdjust="spacingAndGlyphs">udr75</text>
<rect x="392.5" y="372.5" width="511" height="55" fill="#fff" stroke="#000" stroke-width="1.3"/>
<text x="596.2" y="392.2" textLength="99.5" lengthAdjust="spacingAndGlyphs">Stacked bars</text>
<rect x="399.5" y="405.5" width="33" height="12" fill="#ea9652" stroke="#7a3a0c" stroke-width="1"/>
<text x="444.5" y="416.7" textLength="56.5" lengthAdjust="spacingAndGlyphs">supneg</text>
<rect x="533.5" y="405.5" width="34" height="12" fill="#f2b888" stroke="#7a3a0c" stroke-width="1"/>
<text x="579.6" y="416.7" textLength="53.3" lengthAdjust="spacingAndGlyphs">preneg</text>
<rect x="666.5" y="405.5" width="33" height="12" fill="#cfd8ae" stroke="#485624" stroke-width="1"/>
<text x="711.8" y="416.7" textLength="51.5" lengthAdjust="spacingAndGlyphs">prepos</text>
<rect x="797.5" y="405.5" width="33" height="12" fill="#b3c283" stroke="#485624" stroke-width="1"/>
<text x="842.8" y="416.7" textLength="54.5" lengthAdjust="spacingAndGlyphs">suppos</text>
</svg>
</body></html>
